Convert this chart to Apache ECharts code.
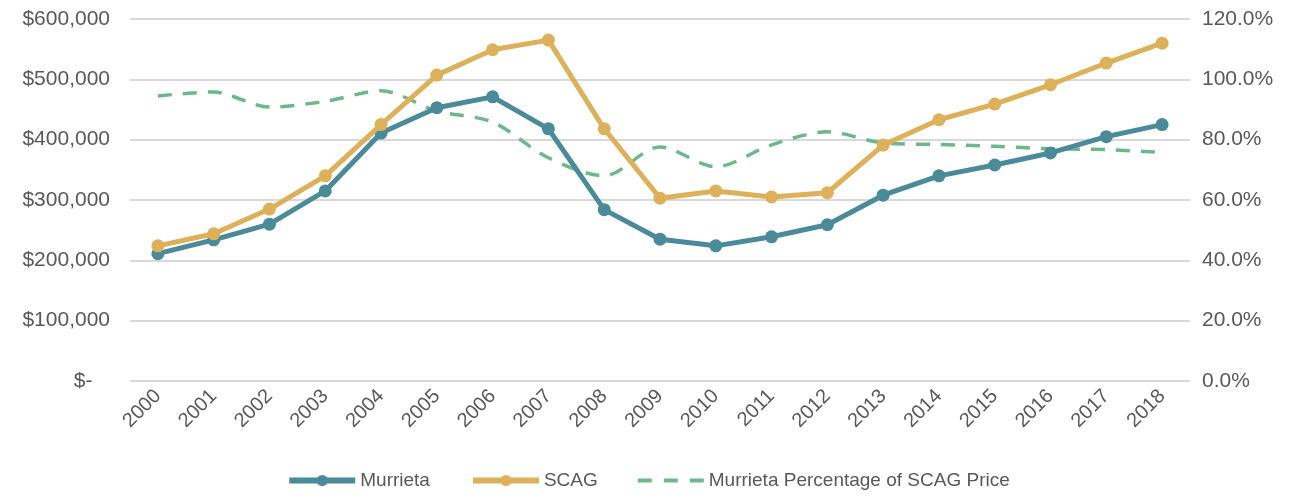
<!DOCTYPE html>
<html>
<head>
<meta charset="utf-8">
<script src="https://cdn.jsdelivr.net/npm/echarts@6/dist/echarts.min.js"></script>
<style>
  html, body { margin: 0; padding: 0; background: #fff; }
  #chart { width: 1296px; height: 497px; }
</style>
</head>
<body>
<div id="chart"></div>
<script>
// 年份
const years = ['2000', '2001', '2002', '2003', '2004', '2005', '2006', '2007', '2008', '2009',
  '2010', '2011', '2012', '2013', '2014', '2015', '2016', '2017', '2018']
// Murrieta 房价
const murrieta = [211000, 234000, 260000, 315000, 411000, 453000, 471000, 418000, 284000, 235000,
  224000, 239000, 259000, 308000, 340000, 358000, 378000, 405000, 425000]
// SCAG 房价
const scag = [224000, 244000, 285000, 340000, 425000, 507000, 549000, 565000, 418000, 303000,
  315000, 305000, 312000, 391000, 433000, 459000, 491000, 527000, 560000]
// Murrieta 占 SCAG 的百分比
const pct = [94.5, 95.8, 90.8, 92.7, 96.2, 89.5, 85.8, 74.0, 68.0, 77.6,
  71.0, 78.3, 82.6, 78.9, 78.4, 77.8, 77.0, 76.7, 75.8]

const textColor = '#595959'
const font = '"Liberation Sans", Arial, sans-serif'

const chart = echarts.init(document.getElementById('chart'))
const option = {
  animation: false,
  textStyle: { fontFamily: font },
  grid: { left: 130, right: 106, top: 19, bottom: 116 },
  legend: {
    bottom: 2,
    left: 'center',
    itemWidth: 66,
    itemHeight: 14,
    itemGap: 40,
    textStyle: { color: textColor, fontSize: 19, fontFamily: font },
    data: [
      { name: 'Murrieta', lineStyle: { width: 6 } },
      { name: 'SCAG', lineStyle: { width: 6 } },
      { name: 'Murrieta Percentage of SCAG Price', icon: 'path://M0,6h14v4h-14zM26,6h14v4h-14zM52,6h14v4h-14z' }
    ]
  },
  xAxis: {
    type: 'category',
    data: years,
    boundaryGap: true,
    axisLine: { show: false },
    axisTick: { show: false },
    axisLabel: { color: textColor, fontSize: 20, rotate: 45, margin: 12 }
  },
  yAxis: [
    {
      type: 'value',
      min: 0,
      max: 600000,
      interval: 100000,
      axisLine: { show: false },
      axisTick: { show: false },
      splitLine: { lineStyle: { color: '#d9d9d9', width: 2 } },
      axisLabel: {
        color: textColor,
        fontSize: 21,
        margin: 20,
        formatter: v => v === 0 ? '$-   ' : '$' + v.toLocaleString('en-US')
      }
    },
    {
      type: 'value',
      min: 0,
      max: 120,
      interval: 20,
      position: 'right',
      axisLine: { show: false },
      axisTick: { show: false },
      splitLine: { show: false },
      axisLabel: {
        color: textColor,
        fontSize: 21,
        margin: 12,
        formatter: v => v.toFixed(1) + '%'
      }
    }
  ],
  series: [
    {
      name: 'Murrieta',
      type: 'line',
      data: murrieta,
      symbol: 'circle',
      symbolSize: 13,
      lineStyle: { color: '#4a8a99', width: 5 },
      itemStyle: { color: '#4a8a99' },
      z: 3
    },
    {
      name: 'SCAG',
      type: 'line',
      data: scag,
      symbol: 'circle',
      symbolSize: 13,
      lineStyle: { color: '#ddb05a', width: 5 },
      itemStyle: { color: '#ddb05a' },
      z: 4
    },
    {
      name: 'Murrieta Percentage of SCAG Price',
      type: 'line',
      yAxisIndex: 1,
      data: pct,
      smooth: 0.3,
      symbol: 'none',
      lineStyle: { color: '#6db88a', width: 3.5, type: [14, 11] },
      itemStyle: { color: '#6db88a' },
      z: 2
    }
  ]
}
chart.setOption(option)
</script>
</body>
</html>
